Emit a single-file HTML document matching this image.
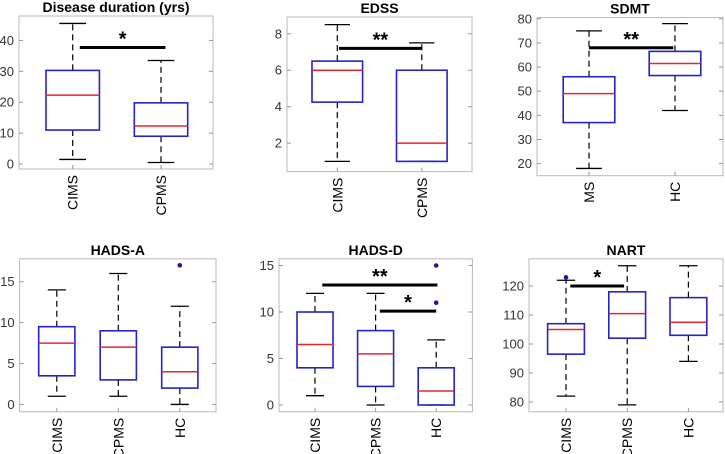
<!DOCTYPE html>
<html><head><meta charset="utf-8"><style>
html,body{margin:0;padding:0;background:#fff}
svg{display:block;font-family:"Liberation Sans",Arial,sans-serif}
</style></head><body>
<svg id="fig" width="725" height="454" viewBox="0 0 725 454"></svg>
<script>
// ---- data ----
const p1Cats=["CIMS","CPMS"];
const p1Lo=[1.5,0.5],p1Q1=[11,9],p1Med=[22.3,12.3],p1Q3=[30.3,19.8],p1Hi=[45.5,33.5];
const p1Out=[[],[]];const p1Ticks=[0,10,20,30,40];
const p2Cats=["CIMS","CPMS"];
const p2Lo=[1,1],p2Q1=[4.25,1],p2Med=[6,2],p2Q3=[6.5,6],p2Hi=[8.5,7.5];
const p2Out=[[],[]];const p2Ticks=[2,4,6,8];
const p3Cats=["MS","HC"];
const p3Lo=[18,42],p3Q1=[37,56.5],p3Med=[49,61.5],p3Q3=[56,66.5],p3Hi=[75,78];
const p3Out=[[],[]];const p3Ticks=[20,30,40,50,60,70,80];
const p4Cats=["CIMS","CPMS","HC"];
const p4Lo=[1,1,0],p4Q1=[3.5,3,2],p4Med=[7.5,7,4],p4Q3=[9.5,9,7],p4Hi=[14,16,12];
const p4Out=[[],[],[17]];const p4Ticks=[0,5,10,15];
const p5Cats=["CIMS","CPMS","HC"];
const p5Lo=[1,0,0],p5Q1=[4,2,0],p5Med=[6.5,5.5,1.5],p5Q3=[10,8,4],p5Hi=[12,12,7];
const p5Out=[[],[],[11,15]];const p5Ticks=[0,5,10,15];
const p6Cats=["CIMS","CPMS","HC"];
const p6Lo=[82,79,94],p6Q1=[96.5,102,103],p6Med=[105,110.5,107.5],p6Q3=[107,118,116],p6Hi=[122,127,127];
const p6Out=[[123],[],[]];const p6Ticks=[80,90,100,110,120];
// significance bars: [y value, from cat, to cat, label]
const p1Sig=[[37.7,1.08,2.05,"*"]];
const p2Sig=[[7.2,1.02,2.0,"**"]];
const p3Sig=[[68,1.0,1.98,"**"]];
const p4Sig=[];
const p5Sig=[[12.9,1.12,3.02,"**"],[10.1,2.07,3.0,"*"]];
const p6Sig=[[120,1.07,1.95,"*"]];

// ---- layout (pixel geometry, not data) ----
const NS="http://www.w3.org/2000/svg";
const svg=document.getElementById('fig');
function mk(tag,attrs,parent){const e=document.createElementNS(NS,tag);for(const k in attrs)e.setAttribute(k,attrs[k]);(parent||svg).appendChild(e);return e;}
const panels=[
 {name:"disease-duration",title:"Disease duration (yrs)",cats:p1Cats,lo:p1Lo,q1:p1Q1,med:p1Med,q3:p1Q3,hi:p1Hi,out:p1Out,ticks:p1Ticks,sig:p1Sig,
  L:19,R:213,T:16,B:169,ylo:-1.6,yhi:47.9,x1:72.7,dx:88.3,hw:26.7},
 {name:"edss",title:"EDSS",cats:p2Cats,lo:p2Lo,q1:p2Q1,med:p2Med,q3:p2Q3,hi:p2Hi,out:p2Out,ticks:p2Ticks,sig:p2Sig,
  L:287,R:472,T:17,B:171.6,ylo:0.44,yhi:8.92,x1:337.3,dx:84.5,hw:25.3},
 {name:"sdmt",title:"SDMT",cats:p3Cats,lo:p3Lo,q1:p3Q1,med:p3Med,q3:p3Q3,hi:p3Hi,out:p3Out,ticks:p3Ticks,sig:p3Sig,
  L:537,R:723,T:17.6,B:175.7,ylo:15,yhi:80.5,x1:589,dx:86,hw:25.8},
 {name:"hads-a",title:"HADS-A",cats:p4Cats,lo:p4Lo,q1:p4Q1,med:p4Med,q3:p4Q3,hi:p4Hi,out:p4Out,ticks:p4Ticks,sig:p4Sig,
  L:19.6,R:216,T:258.8,B:411.8,ylo:-0.9,yhi:17.8,x1:56.8,dx:61.5,hw:18.1},
 {name:"hads-d",title:"HADS-D",cats:p5Cats,lo:p5Lo,q1:p5Q1,med:p5Med,q3:p5Q3,hi:p5Hi,out:p5Out,ticks:p5Ticks,sig:p5Sig,
  L:279,R:472.4,T:258.8,B:411.8,ylo:-0.73,yhi:15.72,x1:315,dx:60.6,hw:18},
 {name:"nart",title:"NART",cats:p6Cats,lo:p6Lo,q1:p6Q1,med:p6Med,q3:p6Q3,hi:p6Hi,out:p6Out,ticks:p6Ticks,sig:p6Sig,
  L:529,R:723,T:258.8,B:411.8,ylo:76.6,yhi:129.4,x1:566,dx:61.2,hw:18.4}
];
panels.forEach(p=>{
  const g=mk('g',{});
  
  
  const Y=v=>p.B-(v-p.ylo)/(p.yhi-p.ylo)*(p.B-p.T);
  const X=c=>p.x1+(c-1)*p.dx;
  const t=mk('text',{x:(p.L+p.R)/2,y:p.T-4,'text-anchor':'middle','font-size':14,'font-weight':'bold',fill:'#000'},g);
  t.textContent=p.title;
  
  
  const fr=mk('rect',{x:p.L,y:p.T,width:p.R-p.L,height:p.B-p.T,fill:'none',stroke:'#b8b8b8','stroke-width':1},g);
  
  
  p.ticks.forEach(v=>{
    const y=Y(v);
    mk('line',{x1:p.L,x2:p.L+4,y1:y,y2:y,stroke:'#999'},g);
    mk('line',{x1:p.R,x2:p.R-4,y1:y,y2:y,stroke:'#999'},g);
    const tl=mk('text',{x:p.L-5,y:y+4.5,'text-anchor':'end','font-size':13,fill:'#333'},g);
    tl.textContent=v;
    
    
  });
  p.cats.forEach((c,i)=>{
    const x=X(i+1);
    mk('line',{x1:x,x2:x,y1:p.B,y2:p.B-4,stroke:'#999'},g);
    const wl=mk('line',{x1:x,x2:x,y1:Y(p.q3[i]),y2:Y(p.hi[i]),stroke:'#000','stroke-dasharray':'6,4','stroke-width':1.2},g);
    
    
    const wl2=mk('line',{x1:x,x2:x,y1:Y(p.q1[i]),y2:Y(p.lo[i]),stroke:'#000','stroke-dasharray':'6,4','stroke-width':1.2},g);
    
    
    const cw=p.hw/2;
    mk('line',{x1:x-cw,x2:x+cw,y1:Y(p.hi[i]),y2:Y(p.hi[i]),stroke:'#000','stroke-width':1.3},g);
    mk('line',{x1:x-cw,x2:x+cw,y1:Y(p.lo[i]),y2:Y(p.lo[i]),stroke:'#000','stroke-width':1.3},g);
    const bx=mk('rect',{x:x-p.hw,y:Y(p.q3[i]),width:2*p.hw,height:Y(p.q1[i])-Y(p.q3[i]),fill:'none',stroke:'#2323c8','stroke-width':1.6},g);
    
    
    const md=mk('line',{x1:x-p.hw,x2:x+p.hw,y1:Y(p.med[i]),y2:Y(p.med[i]),stroke:'#e8262a','stroke-width':1.5},g);
    
    
    p.out[i].forEach(v=>{
      const o=mk('circle',{cx:x,cy:Y(v),r:2.3,fill:'#1a1aa0'},g);
      
      
    });
    const lb=mk('text',{transform:`translate(${x+5},${p.B+6}) rotate(-90)`,'text-anchor':'end','font-size':14,fill:'#000'},g);
    lb.textContent=c;
    
    
  });
  p.sig.forEach(s=>{
    const y=Y(s[0]);
    const sb=mk('line',{x1:X(s[1]),x2:X(s[2]),y1:y,y2:y,stroke:'#000','stroke-width':3},g);
    
    
    const st=mk('text',{x:(X(s[1])+X(s[2]))/2,y:y-2,'text-anchor':'middle','font-size':20,'font-weight':'bold',fill:'#000'},g);
    st.textContent=s[3];
    
    
  });
});
</script>
</body></html>
